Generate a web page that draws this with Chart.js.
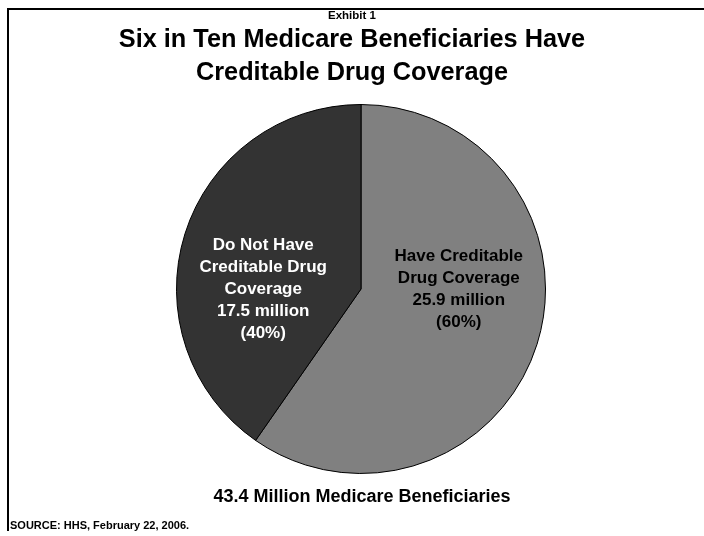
<!DOCTYPE html>
<html>
<head>
<meta charset="utf-8">
<script src="https://cdn.jsdelivr.net/npm/chart.js@4.4.1/dist/chart.umd.min.js"></script>
<style>
    html, body { margin: 0; padding: 0; background: #ffffff; }
    body { width: 704px; height: 536px; position: relative; overflow: hidden;
           font-family: "Liberation Sans", Arial, Helvetica, sans-serif; font-weight: bold; color: #000; }
    #frame { position: absolute; left: 7px; top: 8px; width: 697px; height: 523px;
             border-top: 2px solid #000; border-left: 2px solid #000; box-sizing: border-box; }
    #chartWrap { position: absolute; left: 0; top: 0; width: 704px; height: 536px; }
    .txt { position: absolute; left: 0; width: 704px; text-align: center; white-space: nowrap; }
    #exhibit { top: 9px; font-size: 11.5px; line-height: 13px; }
    #title { top: 22px; font-size: 25.3px; line-height: 33px; }
    #total { top: 485px; left: 10px; font-size: 18px; line-height: 23px; }
    #source { top: 518px; left: 10px; width: auto; text-align: left; font-size: 11px; line-height: 14px; }
</style>
</head>
<body>
<div id="frame"></div>
<div id="chartWrap"><canvas id="pieChart" width="704" height="536"></canvas></div>
<div class="txt" id="exhibit">Exhibit 1</div>
<div class="txt" id="title">Six in Ten Medicare Beneficiaries Have<br>Creditable Drug Coverage</div>
<div class="txt" id="total">43.4 Million Medicare Beneficiaries</div>
<div class="txt" id="source">SOURCE: HHS, February 22, 2006.</div>

<script>
const categories = ['Have Creditable Drug Coverage', 'Do Not Have Creditable Drug Coverage'];
const labelLines = [['Have Creditable', 'Drug Coverage'], ['Do Not Have', 'Creditable Drug', 'Coverage']];
const millions = [25.9, 17.5];
const percents = [60, 40];
const sliceColors = ['#808080', '#333333'];
const labelColors = ['#000000', '#ffffff'];

// Draws the multi-line label inside each slice
const sliceLabels = {
    id: 'sliceLabels',
    afterDatasetsDraw(chart) {
        const ctx = chart.ctx;
        const arcs = chart.getDatasetMeta(0).data;
        ctx.save();
        ctx.font = 'bold 17px "Liberation Sans", Arial, sans-serif';
        ctx.textAlign = 'center';
        ctx.textBaseline = 'middle';
        arcs.forEach(function(arc, i) {
            const mid = (arc.startAngle + arc.endAngle) / 2;
            const side = Math.cos(mid) >= 0 ? 1 : -1;
            const x = arc.x + side * arc.outerRadius * 0.53;
            const lines = labelLines[i].concat([millions[i] + ' million', '(' + percents[i] + '%)']);
            const lh = 22;
            const y0 = arc.y - (lines.length - 1) * lh / 2;
            ctx.fillStyle = labelColors[i];
            lines.forEach(function(line, j) {
                ctx.fillText(line, x, y0 + j * lh);
            });
        });
        ctx.restore();
    }
};

new Chart(document.getElementById('pieChart'), {
    type: 'pie',
    data: {
        labels: categories,
        datasets: [{
            data: millions,
            backgroundColor: sliceColors,
            borderColor: '#000000',
            borderWidth: 1
        }]
    },
    options: {
        responsive: false,
        animation: false,
        events: [],
        layout: { padding: { left: 176, right: 158, top: 104, bottom: 62 } },
        plugins: {
            legend: { display: false },
            tooltip: { enabled: false }
        }
    },
    plugins: [sliceLabels]
});
</script>
</body>
</html>
